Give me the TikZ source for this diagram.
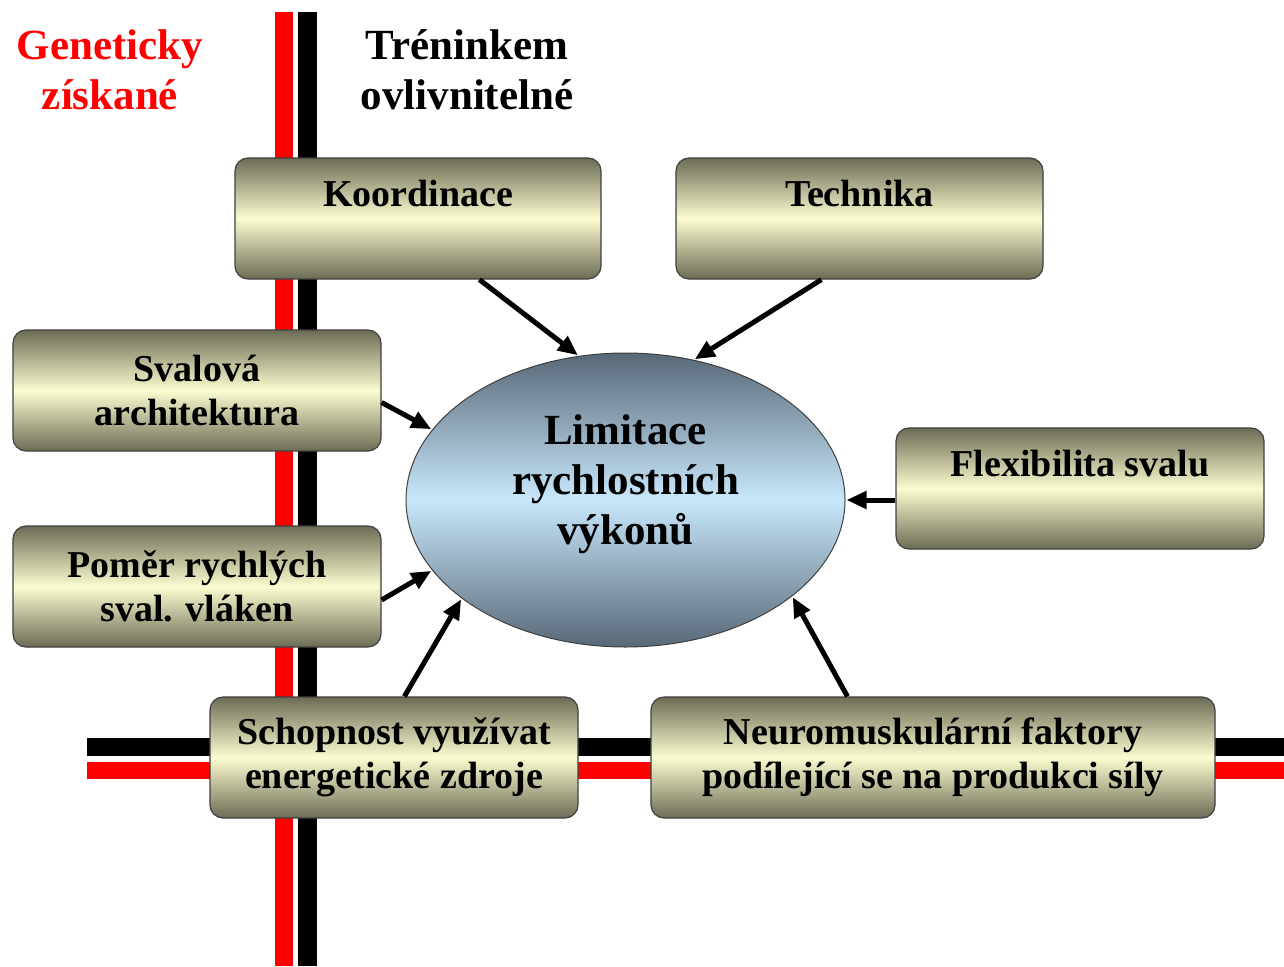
\documentclass[tikz,border=0pt]{standalone}
\usepackage{fontspec}
\setmainfont{Liberation Serif}
\usetikzlibrary{arrows.meta,calc,shapes.geometric}
\definecolor{boxdark}{RGB}{108,108,86}
\definecolor{boxlight}{RGB}{252,252,208}
\definecolor{elldark}{RGB}{88,104,118}
\definecolor{elllight}{RGB}{200,232,252}
\definecolor{gred}{RGB}{255,0,0}
\begin{document}
\begin{tikzpicture}[x=1pt,y=-1pt,
  fbox/.style={draw=black!75, line width=1.2pt, rounded corners=13pt,
    top color=boxdark, bottom color=boxdark, middle color=boxlight,
    minimum height=121pt, inner sep=0pt, align=center,
    font=\fontsize{38}{44}\selectfont\bfseries},
  ell/.style={ellipse, draw=black!75, line width=1pt,
    top color=elldark, bottom color=elldark, middle color=elllight,
    minimum width=439pt, minimum height=294pt, inner sep=0pt},
  elltext/.style={align=center, font=\fontsize{43}{50}\selectfont\bfseries},
  head/.style={align=center, font=\fontsize{43}{50}\selectfont\bfseries},
  arr/.style={line width=5pt, -{Triangle[length=20pt,width=17pt]}, shorten >=1pt}]
\useasboundingbox (0,0) rectangle (1284,966);
\fill[white] (0,0) rectangle (1284,966);
% bands
\fill[gred] (275,12) rectangle (293,966);
\fill[black] (298,12) rectangle (317,966);
\fill[black] (87,738) rectangle (1284,756);
\fill[gred] (87,762) rectangle (1284,779);
% headers
\node[head, text=gred] (gen) at (110,70) {Geneticky\\získané};
\node[head] (tren) at (467,70) {Tréninkem\\ovlivnitelné};
% boxes
\node[fbox, minimum width=366pt] (koord) at (418,218.5) {Koordinace\\[6pt]\mbox{}};
\node[fbox, minimum width=367pt] (tech) at (859.5,218.5) {Technika\\[6pt]\mbox{}};
\node[fbox, minimum width=368pt] (sval) at (197,390.5) {Svalová\\architektura};
\node[fbox, minimum width=368pt] (flex) at (1080,488.5) {Flexibilita svalu\\[6pt]\mbox{}};
\node[fbox, minimum width=368pt] (pomer) at (197,586.5) {Poměr rychlých\\sval. vláken};
\node[fbox, minimum width=368pt] (schop) at (394,757.5) {Schopnost využívat\\energetické zdroje};
\node[fbox, minimum width=564pt] (neuro) at (933,757.5) {Neuromuskulární faktory\\podílející se na produkci síly};
% ellipse
\node[ell] (lim) at (625.5,500) {};
\node[elltext] (limt) at (625.5,484) {Limitace\\rychlostních\\výkonů};
% arrows
\draw[arr] ($(koord.south west)+(245,0)$) -- (lim.108);
\draw[arr] ($(tech.south west)+(146,0)$) -- (lim.64);
\draw[arr] ($(sval.east)+(0,12)$) -- (lim.160);
\draw[arr] ($(flex.west)+(0,11.5)$) -- (lim.east);
\draw[arr] ($(pomer.east)+(0,13.5)$) -- (lim.200);
\draw[arr] ($(schop.north west)+(195,0)$) -- (lim.211);
\draw[arr] ($(neuro.north west)+(197,0)$) -- (lim.330);
\end{tikzpicture}
\end{document}
